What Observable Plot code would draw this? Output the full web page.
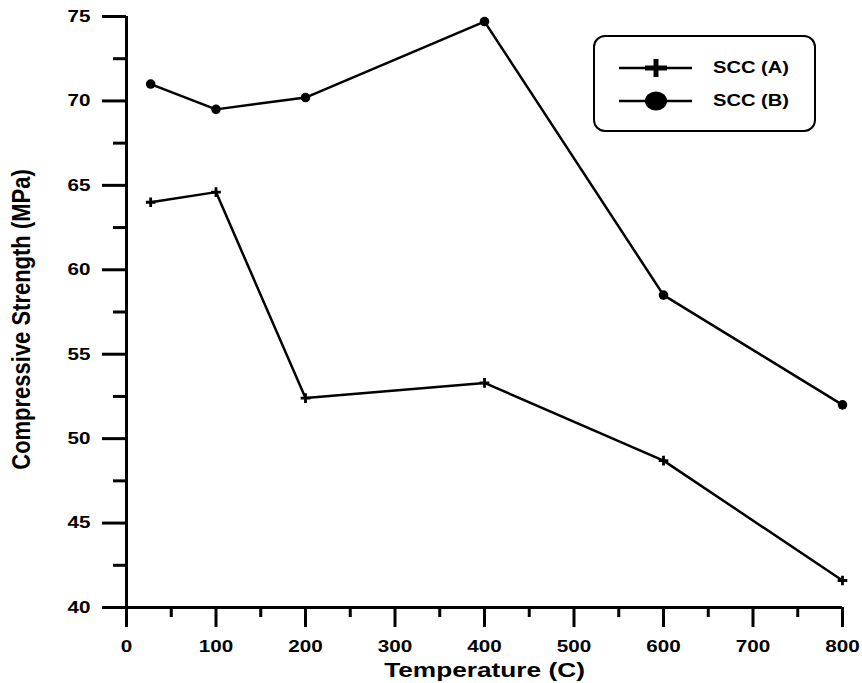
<!DOCTYPE html>
<html>
<head>
<meta charset="utf-8">
<script src="https://cdn.jsdelivr.net/npm/d3@7"></script>
<script src="https://cdn.jsdelivr.net/npm/@observablehq/plot@0.6"></script>
<style>
  html, body { margin: 0; padding: 0; background: #fff; }
  #wrap { position: relative; width: 862px; height: 683px; }
  #wrap svg g[aria-label$="-axis tick"] { stroke-width: 3px; stroke: #000; }
  #legend {
    position: absolute; left: 593px; top: 35px; width: 219px; height: 93px;
    border: 2px solid #000; border-radius: 12px; background: #fff;
    font-family: "Liberation Sans", Arial, sans-serif; font-weight: bold; font-size: 16.8px;
  }
  #legend .row { position: absolute; left: 0; width: 100%; height: 24px; }
  #legend svg { position: absolute; left: 0; top: 0; }
  #legend .lab { position: absolute; left: 118px; top: 2px; display: inline-block;
    transform: scaleX(1.2); transform-origin: left center; white-space: nowrap; }
</style>
</head>
<body>
<div id="wrap"></div>
<script>
const temps = [27, 100, 200, 400, 600, 800];
const sccA = [64.0, 64.6, 52.4, 53.3, 48.7, 41.6];
const sccB = [71.0, 69.5, 70.2, 74.7, 58.5, 52.0];
const seriesNames = ["SCC (A)", "SCC (B)"];
const xMajor = [0, 100, 200, 300, 400, 500, 600, 700, 800];
const xMinor = [50, 150, 250, 350, 450, 550, 650, 750];
const yMajor = [40, 45, 50, 55, 60, 65, 70, 75];
const yMinor = [42.5, 47.5, 52.5, 57.5, 62.5, 67.5, 72.5];
const xTitle = "Temperature (C)";
const yTitle = "Compressive Strength (MPa)";

const dataA = temps.map((t, i) => ({t, v: sccA[i]}));
const dataB = temps.map((t, i) => ({t, v: sccB[i]}));

const font = "'Liberation Sans', Arial, sans-serif";

const chart = Plot.plot({
  width: 862, height: 683,
  marginLeft: 126, marginRight: 20, marginTop: 16, marginBottom: 76,
  style: {fontFamily: font, color: "#000", background: "#fff", overflow: "visible"},
  x: {domain: [0, 800], label: null},
  y: {domain: [40, 75], label: null},
  marks: [
    Plot.axisY(yMajor, {tickSize: 24, tickPadding: 12, stroke: "#000", strokeWidth: 3, fontSize: 16.5, fontWeight: "bold", label: null, tickFormat: d => String(d)}),
    Plot.axisY(yMinor, {tickSize: 13, stroke: "#000", strokeWidth: 3, label: null, tickFormat: () => ""}),
    Plot.axisX(xMajor, {tickSize: 20, tickPadding: 13, stroke: "#000", strokeWidth: 3, fontSize: 16.5, fontWeight: "bold", label: null, tickFormat: d => String(d)}),
    Plot.axisX(xMinor, {tickSize: 10, stroke: "#000", strokeWidth: 3, label: null, tickFormat: () => ""}),
    Plot.ruleX([0], {stroke: "#000", strokeWidth: 3}),
    Plot.ruleY([40], {stroke: "#000", strokeWidth: 3}),
    Plot.line(dataA, {x: "t", y: "v", stroke: "#000", strokeWidth: 2.5}),
    Plot.line(dataB, {x: "t", y: "v", stroke: "#000", strokeWidth: 2.5}),
    Plot.dot(dataA, {x: "t", y: "v", symbol: "plus", r: 3.2, stroke: "#000", strokeWidth: 2.8}),
    Plot.dot(dataB, {x: "t", y: "v", symbol: "circle", r: 4.8, fill: "#000", stroke: null}),
    Plot.text([xTitle], {frameAnchor: "bottom", dy: 63, lineAnchor: "middle", textAnchor: "middle", fontSize: 21, fontWeight: "bold"}),
    Plot.text([yTitle], {frameAnchor: "left", rotate: -90, dx: -105, dy: 7.5, lineAnchor: "middle", textAnchor: "middle", fontSize: 22, fontWeight: "bold"})
  ]
});

// widen glyphs horizontally to match the reference's stretched lettering
for (const t of chart.querySelectorAll("text")) {
  const x = +t.getAttribute("x") || 0, y = +t.getAttribute("y") || 0;
  const tr = t.getAttribute("transform") || "";
  const s = tr.includes("rotate") ? "scale(1,1.15)" : "scale(1.25,1)";
  t.setAttribute("transform", `${tr} translate(${x},${y}) ${s} translate(${-x},${-y})`);
}

const wrap = document.getElementById("wrap");
wrap.appendChild(chart);

// legend
const legend = document.createElement("div");
legend.id = "legend";
const rows = [
  {name: seriesNames[0], top: 19, sym: "plus"},
  {name: seriesNames[1], top: 52, sym: "circle"}
];
for (const r of rows) {
  const row = document.createElement("div");
  row.className = "row";
  row.style.top = r.top + "px";
  const symSvg = r.sym === "plus"
    ? `<svg width="110" height="24"><line x1="24" x2="97" y1="12" y2="12" stroke="#000" stroke-width="2.5"/><line x1="50" x2="72" y1="12" y2="12" stroke="#000" stroke-width="5"/><line x1="61" x2="61" y1="3" y2="21" stroke="#000" stroke-width="5"/></svg>`
    : `<svg width="110" height="24"><line x1="24" x2="97" y1="12" y2="12" stroke="#000" stroke-width="2.5"/><ellipse cx="61" cy="12" rx="11" ry="9.5" fill="#000"/></svg>`;
  row.innerHTML = symSvg + `<span class="lab">${r.name}</span>`;
  legend.appendChild(row);
}
wrap.appendChild(legend);
</script>
</body>
</html>
